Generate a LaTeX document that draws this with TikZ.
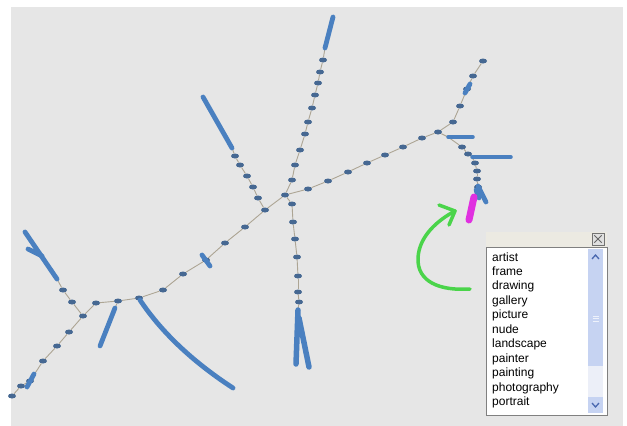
\documentclass[tikz,border=0pt]{standalone}
\usepackage{fontspec}
\setmainfont{Liberation Sans}
\usetikzlibrary{shapes.geometric}
\definecolor{bgc}{HTML}{E6E6E6}
\definecolor{dotc}{HTML}{466892}
\definecolor{clusc}{HTML}{4A80C0}
\definecolor{edgec}{HTML}{ADA594}
\definecolor{magc}{HTML}{E030E0}
\definecolor{grnc}{HTML}{4AD44A}
\definecolor{titlec}{HTML}{ECEAE2}
\definecolor{scrollc}{HTML}{C6D3F2}
\definecolor{trackc}{HTML}{ECEFF8}
\definecolor{arrc}{HTML}{4A68B0}
\tikzset{
  dot/.style={ellipse, fill=dotc, minimum width=8pt, minimum height=5pt, inner sep=0pt},
  edge/.style={draw=edgec, line width=0.9pt},
  clus/.style={draw=clusc, line width=4.8pt, line cap=round},
  magclus/.style={draw=magc, line width=7pt, line cap=round},
  greenarrow/.style={draw=grnc, line width=3.5pt, line cap=round, line join=round},
  item/.style={anchor=base west, inner sep=0pt, font=\fontsize{12}{14}\selectfont, text=black},
}
\begin{document}
\begin{tikzpicture}[x=1pt,y=-1pt]
\fill[white] (0,0) rectangle (627,426);
\fill[bgc] (11,7) rectangle (623,426);
\useasboundingbox (0,0) rectangle (627,426);

% ---- graph nodes ----
\foreach \n/\x/\y in {
  s0/12/396, s1/21/386, s2/30/381, s3/43/361, s4/57/346, s5/69/332, j1/83/316,
  s6/96/303, s7/118/301, j2/139/298, s8/163/290, s9/183/274, s10/206/260,
  s11/225/243, s12/245/227, j3/265/210, j4/285/195,
  r1/308/189, r2/328/181, r3/348/172, r4/367/163, r5/385/155, r6/403/147, r7/422/138, j5/438/132,
  a1/72/302, a2/63/290,
  b1/258/198, b2/253/187, b3/247/176, b4/240/165, b5/235/156,
  u1/292/180, u2/295/165, u3/300/150, u4/305/134, u5/308/122, u6/312/108, u7/315/95, u8/318/83, u9/320/72, u10/323/60,
  d1/292/204, d2/293/222, d3/295/239, d4/297/257, d5/298/276, d6/298/292, d7/299/302,
  e1/453/122, e2/460/106, e3/467/89, e4/473/76, e5/483/61,
  f1/462/147, j6/468/154, f2/475/163, f3/477/171, f4/477/179, f5/478/187}
  \node[dot] (\n) at (\x,\y) {};

% ---- cluster end points ----
\coordinate (ca1) at (57,279);  \coordinate (ca2) at (25,232);
\coordinate (cs1) at (28,249);  \coordinate (cs2) at (42,256);
\coordinate (cq1) at (27,387);  \coordinate (cq2) at (34,374);
\coordinate (ck1) at (115,308); \coordinate (ck2) at (100,346);
\coordinate (cl1) at (140,300); \coordinate (cl2) at (233,388);
\coordinate (cm1) at (202,255); \coordinate (cm2) at (210,266);
\coordinate (cb1) at (232,148); \coordinate (cb2) at (203,97);
\coordinate (cu1) at (325,48);  \coordinate (cu2) at (333,17);
\coordinate (cd1) at (298,310); \coordinate (cd2) at (296,364);
\coordinate (cd3) at (299,318); \coordinate (cd4) at (309,367);
\coordinate (ce1) at (465,93);  \coordinate (ce2) at (470,84);
\coordinate (ch1) at (448,137); \coordinate (ch2) at (473,137);
\coordinate (cg1) at (472,157); \coordinate (cg2) at (511,157);
\coordinate (cf1) at (478,186); \coordinate (cf2) at (486,202);
\coordinate (cf3) at (476,190); \coordinate (cf4) at (479,198);
\coordinate (cp1) at (474,197); \coordinate (cp2) at (469,220);

% ---- edges ----
\foreach \a/\b in {s0/s1, s1/s2, s2/s3, s3/s4, s4/s5, s5/j1, j1/s6, s6/s7, s7/j2, j2/s8, s8/s9,
  s9/s10, s10/s11, s11/s12, s12/j3, j3/j4, j4/r1, r1/r2, r2/r3, r3/r4, r4/r5, r5/r6, r6/r7, r7/j5,
  j1/a1, a1/a2, a2/ca1, s7/ck1,
  j3/b1, b1/b2, b2/b3, b3/b4, b4/b5, b5/cb1,
  j4/u1, u1/u2, u2/u3, u3/u4, u4/u5, u5/u6, u6/u7, u7/u8, u8/u9, u9/u10, u10/cu1,
  j4/d1, d1/d2, d2/d3, d3/d4, d4/d5, d5/d6, d6/d7, d7/cd1,
  j5/e1, e1/e2, e2/e3, e3/e4, e4/e5,
  j5/ch1, ch1/f1, f1/j6, j6/cg1, cg1/f2, f2/f3, f3/f4, f4/f5}
  \draw[edge] (\a) -- (\b);

% ---- dense clusters ----
\draw[clus] (ca1) -- (ca2);
\draw[clus] (cs1) -- (cs2);
\draw[clus] (cq1) -- (cq2);
\draw[clus] (ck1) -- (ck2);
\draw[clus] (cl1) .. controls (160,330) and (190,360) .. (cl2);
\draw[clus] (cm1) -- (cm2);
\draw[clus] (cb1) -- (cb2);
\draw[clus] (cu1) -- (cu2);
\draw[clus, line width=5.5pt] (cd1) -- (cd2);
\draw[clus, line width=5.5pt] (cd3) -- (cd4);
\draw[clus] (ce1) -- (ce2);
\draw[clus, line width=3.5pt] (ch1) -- (ch2);
\draw[clus, line width=3.5pt] (cg1) -- (cg2);
\draw[clus] (cf1) -- (cf2);
\draw[clus] (cf3) -- (cf4);
\draw[magclus] (cp1) -- (cp2);

% ---- green arrow ----
\coordinate (gs) at (470,289);
\coordinate (gt) at (455,211);
\coordinate (gb1) at (439,205);
\coordinate (gb2) at (449,225);
\draw[greenarrow] (gs) .. controls (440,291) and (417,282) .. (418,258)
   .. controls (419,236) and (438,220) .. (gt);
\draw[greenarrow] (gb1) -- (gt) -- (gb2);

% ---- list box ----
\fill[titlec] (486,232) rectangle (607,247);
\node[draw=black!55, fill=black!12, minimum width=12pt, minimum height=12pt, inner sep=0pt] (close) at (598,239) {};
\draw[black!60, line width=0.9pt] ([shift={(2.5,-2.5)}]close.south west) -- ([shift={(-2.5,2.5)}]close.north east)
  ([shift={(2.5,2.5)}]close.north west) -- ([shift={(-2.5,-2.5)}]close.south east);
\node[draw=black!50, fill=white, line width=1pt, anchor=north west, minimum width=121pt, minimum height=168pt, inner sep=0pt] (box) at (486,247) {};
\fill[scrollc] (588,249) rectangle (603,366);
\fill[trackc] (588,366) rectangle (603,397);
\fill[scrollc] (588,397) rectangle (603,413);
\draw[arrc, line width=1.3pt] (592,259) -- (595.5,255) -- (599,259);
\draw[arrc, line width=1.3pt] (592,403) -- (595.5,407) -- (599,403);
\draw[white!70!scrollc, line width=0.6pt] (592.5,316) -- (598.5,316) (592.5,318.5) -- (598.5,318.5) (592.5,321) -- (598.5,321);

\foreach \w [count=\i from 0] in {artist,frame,drawing,gallery,picture,nude,landscape,painter,painting,photography,portrait}
  \node[item] (w\i) at (492,{261+14.45*\i}) {\w};
\end{tikzpicture}
\end{document}
